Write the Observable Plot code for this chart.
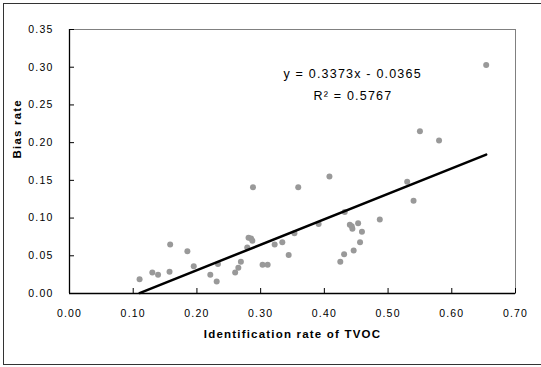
<!DOCTYPE html>
<html><head><meta charset="utf-8">
<script src="https://cdn.jsdelivr.net/npm/d3@7"></script>
<script src="https://cdn.jsdelivr.net/npm/@observablehq/plot@0.6"></script>
<style>
html,body{margin:0;padding:0;background:#fff;}
#wrap{position:relative;width:541px;height:367px;overflow:hidden;}
#border{position:absolute;left:3px;top:3px;width:600px;height:362px;border:1.5px solid #333;border-right:none;box-sizing:border-box;}
#chart{position:absolute;left:0;top:0;}
#chart svg text{letter-spacing:1.2px;}
#chart svg g[aria-label="equation"] text{letter-spacing:0;}
#chart svg g[aria-label="title"] text{letter-spacing:1.4px;}
</style></head><body>
<div id="wrap"><div id="border"></div><div id="chart"></div></div>
<script>
// Identification rate of TVOC (x) and Bias rate (y)
const identification = [0.110,0.130,0.139,0.157,0.158,0.185,0.195,0.221,0.231,0.233,
  0.260,0.265,0.269,0.279,0.281,0.285,0.287,0.288,0.303,0.311,
  0.322,0.334,0.344,0.353,0.359,0.391,0.408,0.425,0.431,0.432,
  0.440,0.443,0.444,0.446,0.453,0.456,0.459,0.487,0.530,0.540,
  0.550,0.580,0.654];
const bias = [0.019,0.028,0.025,0.029,0.065,0.056,0.036,0.025,0.016,0.039,
  0.028,0.034,0.042,0.061,0.074,0.073,0.070,0.141,0.038,0.038,
  0.065,0.068,0.051,0.080,0.141,0.092,0.155,0.042,0.052,0.108,
  0.091,0.089,0.086,0.057,0.093,0.068,0.082,0.098,0.148,0.123,
  0.215,0.203,0.303];
const slope = 0.3373;
const intercept = -0.0365;
const eqText = "y = 0.3373x - 0.0365";
const r2Text = "R² = 0.5767";
const xTicks = [0,0.1,0.2,0.3,0.4,0.5,0.6,0.7];
const yTicks = [0,0.05,0.1,0.15,0.2,0.25,0.3,0.35];
const xTitle = "Identification rate of TVOC";
const yTitle = "Bias rate";

const points = identification.map((x,i)=>({x, y: bias[i]}));
const xmin = d3.min(identification), xmax = d3.max(identification);
const fit = [xmin, xmax].map(x=>({x, y: slope*x + intercept}));
const fmt = d3.format(".2f");

const chart = Plot.plot({
  width:541, height:367,
  marginLeft:69, marginRight:26, marginTop:29, marginBottom:74,
  x:{domain:[0,0.7]},
  y:{domain:[0,0.35]},
  style:{fontFamily:"'Liberation Sans', Arial, sans-serif", fontSize:"10.5px", background:"transparent", color:"#000"},
  marks:[
    Plot.frame({stroke:"#808080"}),
    Plot.axisY({ticks:yTicks, tickSize:0, tickPadding:16, tickFormat:fmt, label:null, fill:"#000"}),
    Plot.axisY({ticks:yTicks, tickSize:5, dx:5, tickFormat:()=>"", label:null, stroke:"#000"}),
    Plot.axisX({ticks:xTicks, tickSize:0, tickPadding:16, tickFormat:fmt, label:null, fill:"#000"}),
    Plot.axisX({ticks:xTicks, tickSize:5, dy:-5, tickFormat:()=>"", label:null, stroke:"#000"}),
    Plot.ruleX([0], {stroke:"#000", strokeWidth:1.3}),
    Plot.ruleY([0], {stroke:"#000", strokeWidth:1.3}),
    Plot.dot(points, {x:"x", y:"y", r:3, fill:"#999", stroke:null}),
    Plot.line(fit, {x:"x", y:"y", stroke:"#000", strokeWidth:2.5}),
    Plot.text([eqText], {text:d=>d, frameAnchor:"top-left", dx:214, dy:40, textAnchor:"start", fontSize:12.5, ariaLabel:"equation"}),
    Plot.text([r2Text], {text:d=>d, frameAnchor:"top-left", dx:244, dy:62, textAnchor:"start", fontSize:12.5, ariaLabel:"equation"}),
    Plot.text([xTitle], {text:d=>d, frameAnchor:"bottom", dy:44, fontWeight:"bold", fontSize:11.5, ariaLabel:"title"}),
    Plot.text([yTitle], {text:d=>d, frameAnchor:"left", dx:-52, dy:-3, rotate:-90, fontWeight:"bold", fontSize:11.5, ariaLabel:"title"})
  ]
});
document.getElementById("chart").appendChild(chart);
</script></body></html>
